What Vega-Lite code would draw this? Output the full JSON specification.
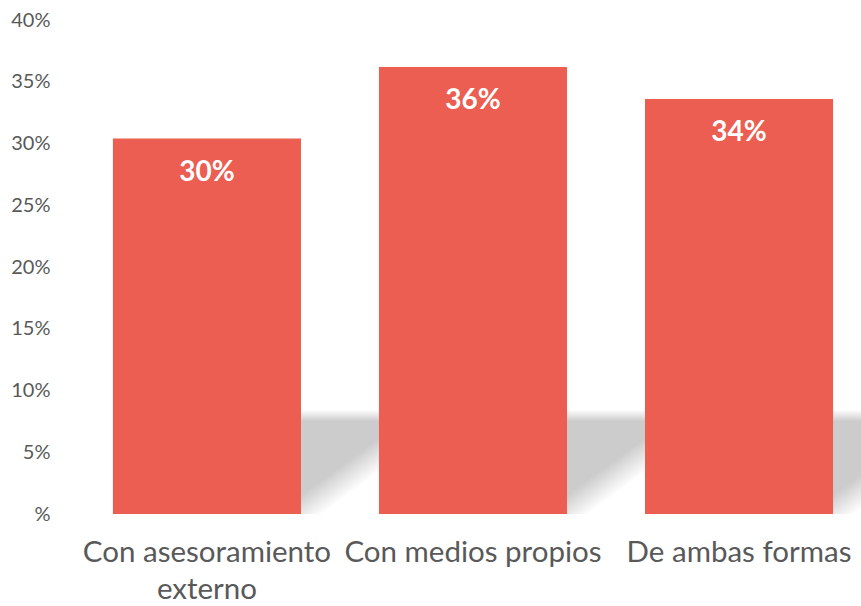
{
  "$schema": "https://vega.github.io/schema/vega-lite/v6.json",
  "autosize": {"type": "none"},
  "width": 776,
  "height": 494,
  "padding": {"left": 85, "top": 20, "right": 0, "bottom": 92},
  "background": "white",
  "config": {"view": {"stroke": null}, "font": "Lato"},
  "data": {"values": [
    {"cat": "Con asesoramiento externo", "value": 30.4, "label": "30%"},
    {"cat": "Con medios propios", "value": 36.2, "label": "36%"},
    {"cat": "De ambas formas", "value": 33.6, "label": "34%"}
  ]},
  "encoding": {
    "x": {"field": "cat", "type": "nominal", "sort": null,
      "scale": {"paddingInner": 0.293, "paddingOuter": 0.105},
      "axis": {"title": null, "labelAngle": 0, "domain": false, "ticks": false,
        "labelFontSize": 29.5, "labelColor": "#595959", "labelPadding": 24,
        "labelExpr": "datum.label == 'Con asesoramiento externo' ? ['Con asesoramiento', 'externo'] : datum.label",
        "labelLineHeight": 37, "labelBaseline": "top", "labelLimit": 400}},
    "y": {"field": "value", "type": "quantitative",
      "scale": {"domain": [0, 40], "nice": false},
      "axis": {"title": null, "values": [0, 5, 10, 15, 20, 25, 30, 35, 40], "grid": false,
        "domain": false, "ticks": false, "labelFontSize": 20, "labelColor": "#595959",
        "labelPadding": 35,
        "labelExpr": "datum.value == 0 ? '%' : datum.value + '%'"}}
  },
  "layer": [
    {"mark": {"type": "bar", "xOffset": 80, "clip": true,
      "fill": {"gradient": "linear", "x1": 0.70, "y1": 0.65, "x2": 0.86, "y2": 0.77,
        "stops": [{"offset": 0, "color": "#cccccc"}, {"offset": 1, "color": "#ffffff"}]}},
     "encoding": {"y": {"datum": 8.4}, "y2": {"datum": 0}}},
    {"mark": {"type": "bar", "xOffset": 80, "clip": true,
      "fill": {"gradient": "linear", "x1": 0, "y1": 0, "x2": 0, "y2": 1,
        "stops": [{"offset": 0, "color": "rgba(255,255,255,1)"}, {"offset": 1, "color": "rgba(255,255,255,0)"}]}},
     "encoding": {"y": {"datum": 8.45}, "y2": {"datum": 7.5}}},
    {"mark": {"type": "bar", "color": "#EB5E51"}},
    {"mark": {"type": "text", "color": "white", "fontWeight": "bold", "fontSize": 28, "baseline": "middle", "dy": 34},
     "encoding": {"text": {"field": "label"}}}
  ]
}
